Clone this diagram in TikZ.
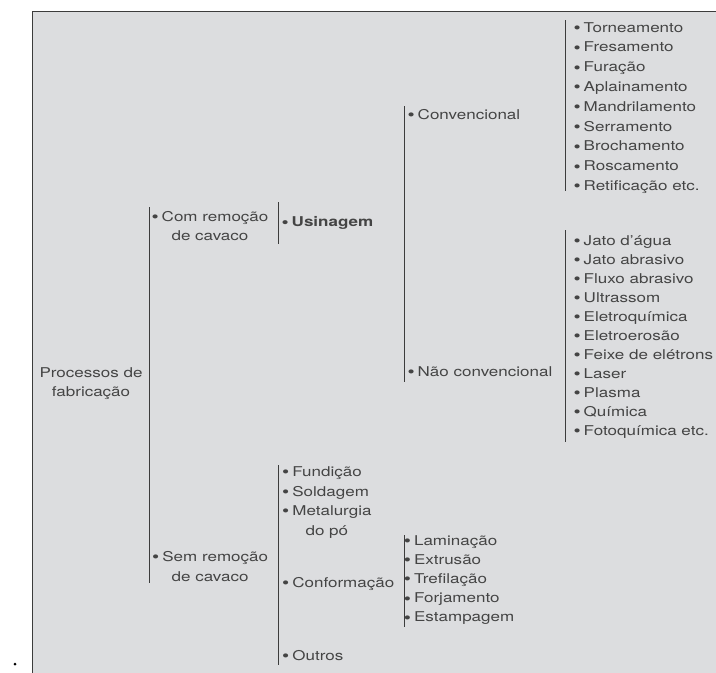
\documentclass[tikz,border=0pt]{standalone}
\usepackage{fontspec}
\setmainfont{TeX Gyre Heros}[FakeStretch=1.26]
\usepackage{xcolor}
\definecolor{txt}{HTML}{444444}
\definecolor{rule}{HTML}{3C3C3C}
\definecolor{panel}{HTML}{DCDDDF}
\newcommand{\itm}{\raisebox{-1.4pt}{\scalebox{1.2}{\textbullet}}\kern3pt}

\begin{document}
\begin{tikzpicture}[x=1pt, y=-1pt,
    every node/.style={inner sep=0pt, anchor=base west, text=txt,
        font=\fontsize{13.5pt}{19.5pt}\selectfont},
    bracket/.style={draw=rule, line width=0.9pt}]
    \useasboundingbox (0,0) rectangle (716,673);

    % Panel
    \fill[panel] (32,11) rectangle (740,700);
    \draw[rule, line width=0.9pt] (740,11) -- (32,11) -- (32,700);
    \fill[black] (15,664) circle (1.5);

    % Root
    \node[anchor=base, align=center] (proc) at (91,396.5) {Processos de\\fabricação};

    % First level
    \coordinate (b1top) at (149,207);
    \coordinate (b1bot) at (149,583);
    \draw[bracket] (b1top) -- (b1bot);
    \node[align=center] (com) at (151.4,240.5) {\itm Com remoção\\de cavaco};
    \node[align=center] (sem) at (152,581) {\itm Sem remoção\\de cavaco};

    % Usinagem
    \coordinate (b2top) at (278,202);
    \coordinate (b2bot) at (278,244);
    \draw[bracket] (b2top) -- (b2bot);
    \node[font=\fontsize{13.5pt}{19.5pt}\selectfont\bfseries] (usi) at (281.4,226) {\itm Usinagem};

    \coordinate (b3top) at (404,106);
    \coordinate (b3bot) at (404,382);
    \draw[bracket] (b3top) -- (b3bot);
    \node (conv) at (407.4,119) {\itm Convencional};
    \node (nconv) at (407.4,376.5) {\itm Não convencional};

    % Convencional
    \coordinate (b4top) at (565,20);
    \coordinate (b4bot) at (565,191);
    \draw[bracket] (b4top) -- (b4bot);
    \foreach \txt [count=\i] in {Torneamento, Fresamento, Furação, Aplainamento,
        Mandrilamento, Serramento, Brochamento, Roscamento, Retificação etc.} {
        \node (cv\i) at (573.4,{32+19.8*(\i-1)}) {\itm \txt};
    }

    % Nao convencional
    \coordinate (b5top) at (565,230);
    \coordinate (b5bot) at (565,442);
    \draw[bracket] (b5top) -- (b5bot);
    \foreach \txt [count=\i] in {Jato d’água, Jato abrasivo, Fluxo abrasivo, Ultrassom,
        Eletroquímica, Eletroerosão, Feixe de elétrons, Laser, Plasma, Química,
        Fotoquímica etc.} {
        \node (nc\i) at (573.4,{245+19*(\i-1)}) {\itm \txt};
    }

    % Sem remocao
    \coordinate (b6top) at (278,465);
    \coordinate (b6bot) at (278,665);
    \draw[bracket] (b6top) -- (b6bot);
    \node (fund) at (282,476.5) {\itm Fundição};
    \node (sold) at (282,496) {\itm Soldagem};
    \node[align=center] (metal) at (282,535) {\itm Metalurgia\\do pó};
    \node (conf) at (282,587) {\itm Conformação};
    \node (outros) at (282,660.5) {\itm Outros};

    % Conformacao
    \coordinate (b7top) at (404,535);
    \coordinate (b7bot) at (404,627);
    \draw[bracket] (b7top) -- (b7bot);
    \foreach \txt [count=\i] in {Laminação, Extrusão, Trefilação, Forjamento, Estampagem} {
        \node (cf\i) at (403.7,{545+19.2*(\i-1)}) {\itm \txt};
    }
\end{tikzpicture}
\end{document}
